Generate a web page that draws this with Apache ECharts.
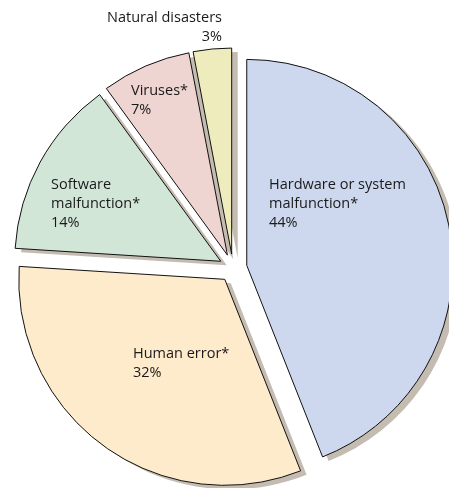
<!DOCTYPE html>
<html><head><meta charset="utf-8">
<script src="https://cdn.jsdelivr.net/npm/echarts@6/dist/echarts.min.js"></script>
<style>html,body{margin:0;padding:0;background:#fff}#c{width:449px;height:488px}</style>
</head><body><div id="c"></div>
<script>
const categories = ['Hardware or system\nmalfunction*', 'Human error*', 'Software\nmalfunction*', 'Viruses*', 'Natural disasters'];
const values = [44, 32, 14, 7, 3];
const colors = ['#cdd8ef', '#fdebcc', '#d2e6d8', '#efd5d2', '#eeecbd'];
// label anchor: [left-or-right edge x, vertical middle y, align]
const labelPos = [[269, 204, 'left'], [133, 363, 'left'], [51, 204, 'left'], [131, 100, 'left'], [222, 27, 'right']];

const CX = 233, CY = 268, R = 206, OFF = 14;
// direction each slice is pulled out (selectedOffset), used to compensate label shifts
const total = values.reduce((a, b) => a + b, 0);
let cum = 0;
const pullDir = values.map(v => {
  const a = (cum + v / 2) / total * Math.PI * 2; cum += v;
  return [Math.sin(a) * OFF, -Math.cos(a) * OFF];
});

const chart = echarts.init(document.getElementById('c'), null, {renderer: 'canvas'});
const base = {
  type: 'pie', radius: R, selectedMode: 'multiple', selectedOffset: OFF, avoidLabelOverlap: false,
  emphasis: {disabled: true}, silent: true, labelLine: {show: false}
};
chart.setOption({
  animation: false,
  series: [
    Object.assign({}, base, {
      center: [CX + 6, CY + 4],
      itemStyle: {color: '#c4bbb1', borderWidth: 0},
      label: {show: false},
      data: categories.map((c, i) => ({name: c, value: values[i], selected: true}))
    }),
    Object.assign({}, base, {
      center: [CX, CY],
      itemStyle: {borderColor: '#111', borderWidth: 1},
      label: {
        show: true, position: 'inside', color: '#1a1a1a',
        fontFamily: 'Open Sans', fontSize: 14.5, lineHeight: 19,
        formatter: p => p.name + '\n' + p.value + '%'
      },
      labelLayout: function (p) {
        const i = p.dataIndex, lp = labelPos[i], r = p.labelRect;
        const ax = r.x + r.width / 2 + pullDir[i][0], ay = r.y + r.height / 2 + pullDir[i][1];
        return {dx: lp[0] - ax, dy: lp[1] - ay, align: lp[2], verticalAlign: 'middle'};
      },
      data: categories.map((c, i) => ({
        name: c, value: values[i], selected: true, itemStyle: {color: colors[i]}
      }))
    })
  ]
});
</script></body></html>
